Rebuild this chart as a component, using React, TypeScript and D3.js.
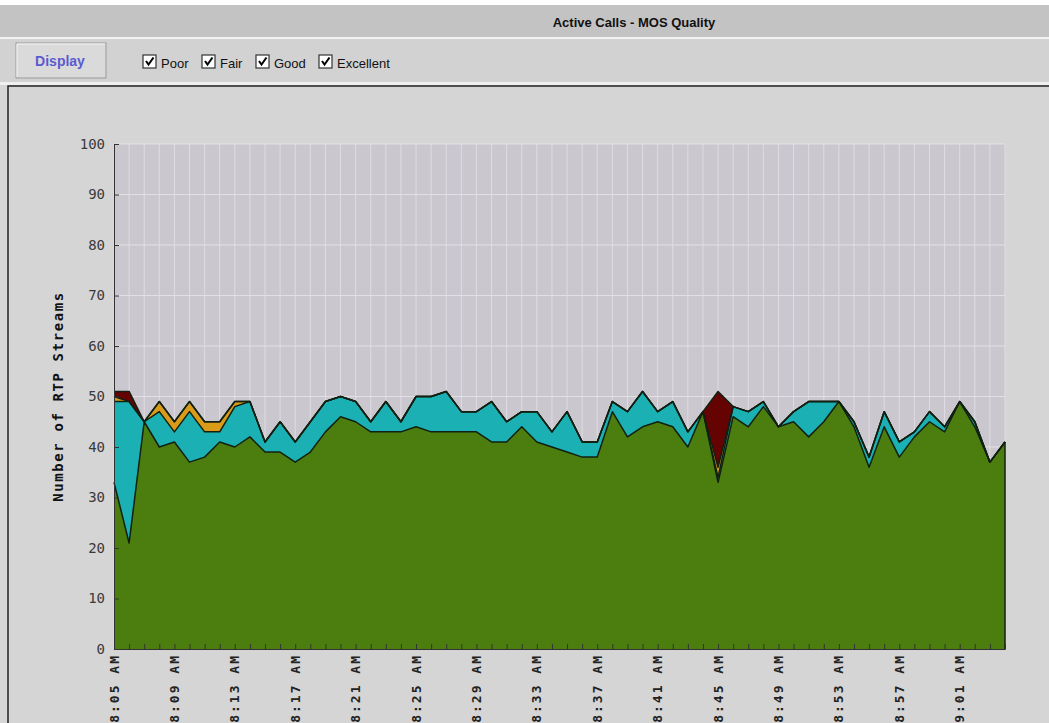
import React, { useEffect, useRef } from 'react';
import * as d3 from 'd3';

// streams per minute, one value per minute starting 8:05 AM
const excellent = [
  33, 21, 45, 40, 41, 37, 38, 41, 40, 42, 39, 39, 37, 39, 43, 46, 45, 43, 43, 43,
  44, 43, 43, 43, 43, 41, 41, 44, 41, 40, 39, 38, 38, 47, 42, 44, 45, 44, 40, 47,
  33, 46, 44, 48, 44, 45, 42, 45, 49, 44, 36, 44, 38, 42, 45, 43, 49, 44, 37, 41,
];
const good = [
  16, 28, 0, 7, 2, 10, 5, 2, 8, 7, 2, 6, 4, 6, 6, 4, 4, 2, 6, 2,
  6, 7, 8, 4, 4, 8, 4, 3, 6, 3, 8, 3, 3, 2, 5, 7, 2, 5, 3, 0,
  1, 2, 3, 1, 0, 2, 7, 4, 0, 1, 2, 3, 3, 1, 2, 1, 0, 1, 0, 0,
];
const fair = [
  1, 0, 0, 2, 2, 2, 2, 2, 1, 0, 0, 0, 0, 0, 0, 0, 0, 0, 0, 0,
  0, 0, 0, 0, 0, 0, 0, 0, 0, 0, 0, 0, 0, 0, 0, 0, 0, 0, 0, 0,
  2, 0, 0, 0, 0, 0, 0, 0, 0, 0, 0, 0, 0, 0, 0, 0, 0, 0, 0, 0,
];
const poor = [
  1, 2, 0, 0, 0, 0, 0, 0, 0, 0, 0, 0, 0, 0, 0, 0, 0, 0, 0, 0,
  0, 0, 0, 0, 0, 0, 0, 0, 0, 0, 0, 0, 0, 0, 0, 0, 0, 0, 0, 0,
  15, 0, 0, 0, 0, 0, 0, 0, 0, 0, 0, 0, 0, 0, 0, 0, 0, 0, 0, 0,
];

const startTime = '8:05 AM';
const tickLabels = [
  '8:05 AM', '8:09 AM', '8:13 AM', '8:17 AM', '8:21 AM', '8:25 AM', '8:29 AM', '8:33 AM',
  '8:37 AM', '8:41 AM', '8:45 AM', '8:49 AM', '8:53 AM', '8:57 AM', '9:01 AM',
];
const yTicks = [0, 10, 20, 30, 40, 50, 60, 70, 80, 90, 100];
const legendLabels = ['Poor', 'Fair', 'Good', 'Excellent'];

const App = () => {
  const svgRef = useRef<SVGSVGElement>(null);

  useEffect(() => {
    const svg = d3.select(svgRef.current);
    svg.selectAll('*').remove();

    const width = 1049;
    const height = 723;
    const margin = { top: 144, right: 44, bottom: 74, left: 114 };
    const sans = '"Liberation Sans", Arial, sans-serif';
    const mono = '"DejaVu Sans Mono", monospace';

    const parse = d3.timeParse('%I:%M %p');
    const t0 = parse(startTime) as Date;
    const rows = excellent.map((e, i) => ({
      time: d3.timeMinute.offset(t0, i),
      excellent: e,
      good: good[i],
      fair: fair[i],
      poor: poor[i],
    }));
    const tEnd = rows[rows.length - 1].time;

    // ---- window chrome ----
    svg.append('rect').attr('width', width).attr('height', height).attr('fill', '#d6d6d6');
    svg.append('rect').attr('width', width).attr('height', 5).attr('fill', '#ffffff');
    svg.append('rect').attr('y', 5).attr('width', width).attr('height', 32).attr('fill', '#c3c3c3');
    svg.append('rect').attr('y', 37).attr('width', width).attr('height', 2).attr('fill', '#f2f2f2');
    svg.append('rect').attr('y', 39).attr('width', width).attr('height', 43).attr('fill', '#d2d2d2');
    svg.append('rect').attr('y', 82).attr('width', width).attr('height', 3).attr('fill', '#f0f0f0');
    svg.append('text')
      .attr('x', 634).attr('y', 27)
      .attr('text-anchor', 'middle')
      .style('font-family', sans).style('font-weight', 'bold').style('font-size', '13px')
      .attr('fill', '#111')
      .text('Active Calls - MOS Quality');

    // Display button
    svg.append('rect').attr('x', 16).attr('y', 43).attr('width', 90).attr('height', 35)
      .attr('fill', '#dadada').attr('stroke', '#9a9a9a');
    svg.append('path').attr('d', 'M17,77 L17,44 L105,44').attr('fill', 'none').attr('stroke', '#f6f6f6');
    svg.append('text')
      .attr('x', 60).attr('y', 66).attr('text-anchor', 'middle')
      .style('font-family', sans).style('font-weight', 'bold').style('font-size', '14px')
      .attr('fill', '#5b5bd0')
      .text('Display');

    // checkboxes
    const boxX = [143, 202, 256, 319];
    const legend = svg.selectAll('.legend').data(legendLabels).enter().append('g')
      .attr('class', 'legend')
      .attr('transform', (d, i) => `translate(${boxX[i]},55)`);
    legend.append('rect').attr('width', 13).attr('height', 13)
      .attr('fill', '#fff').attr('stroke', '#333').attr('stroke-width', 1.2);
    legend.append('path').attr('d', 'M3,6 L5.5,9.5 L10.5,2.5')
      .attr('fill', 'none').attr('stroke', '#000').attr('stroke-width', 2);
    legend.append('text').attr('x', 18).attr('y', 13)
      .style('font-family', sans).style('font-size', '13px').attr('fill', '#111')
      .text(d => d);

    // chart panel
    svg.append('rect').attr('x', 8).attr('y', 86).attr('width', width).attr('height', height)
      .attr('fill', '#d5d5d5').attr('stroke', '#222').attr('stroke-width', 1.5);

    // ---- scales ----
    const xScale = d3.scaleTime().domain([t0, tEnd]).range([margin.left, width - margin.right]);
    const yScale = d3.scaleLinear().domain([0, 100]).range([height - margin.bottom, margin.top]);

    const plotTop = yScale(100);
    const plotBottom = yScale(0);
    svg.append('rect')
      .attr('x', margin.left).attr('y', plotTop)
      .attr('width', xScale(tEnd) - margin.left).attr('height', plotBottom - plotTop)
      .attr('fill', '#cbc7cf');

    // grid
    svg.append('g').selectAll('line').data(rows).enter().append('line')
      .attr('x1', d => xScale(d.time)).attr('x2', d => xScale(d.time))
      .attr('y1', plotTop).attr('y2', plotBottom)
      .attr('stroke', '#dfdce3').attr('stroke-width', 1);
    svg.append('g').selectAll('line').data(yTicks.slice(1)).enter().append('line')
      .attr('x1', margin.left).attr('x2', xScale(tEnd))
      .attr('y1', d => yScale(d)).attr('y2', d => yScale(d))
      .attr('stroke', '#e2e0e6').attr('stroke-width', 1);

    // ---- stacked areas ----
    const keys = ['excellent', 'good', 'fair', 'poor'];
    const colors = d3.scaleOrdinal<string, string>().domain(keys)
      .range(['#4b7e0e', '#1bb0b4', '#d99b18', '#650303']);
    const series = d3.stack<any>().keys(keys)(rows);

    const area = d3.area<any>()
      .x(d => xScale(d.data.time))
      .y0(d => yScale(d[0]))
      .y1(d => yScale(d[1]));
    const topLine = d3.line<any>()
      .x(d => xScale(d.data.time))
      .y(d => yScale(d[1]));

    svg.append('g').selectAll('path').data(series).enter().append('path')
      .attr('d', d => area(d) as string)
      .attr('fill', d => colors(d.key));
    svg.append('g').selectAll('path').data(series).enter().append('path')
      .attr('d', d => topLine(d) as string)
      .attr('fill', 'none')
      .attr('stroke', '#122012')
      .attr('stroke-width', 1.5)
      .attr('stroke-linejoin', 'round');
    // right edge of the filled region
    svg.append('line')
      .attr('x1', xScale(tEnd)).attr('x2', xScale(tEnd))
      .attr('y1', yScale(d3.sum(keys, k => (rows[rows.length - 1] as any)[k]))).attr('y2', plotBottom)
      .attr('stroke', '#122012').attr('stroke-width', 1.5);

    // ---- axes ----
    const yAxis = svg.append('g')
      .attr('transform', `translate(${margin.left},0)`)
      .call(d3.axisLeft(yScale).tickValues(yTicks).tickSize(-5).tickPadding(9));
    yAxis.select('.domain').attr('stroke', '#333');
    yAxis.selectAll('.tick line').attr('stroke', '#333');
    yAxis.selectAll('text')
      .style('font-family', mono).style('font-size', '14px').attr('fill', '#3a3a3a');

    const xAxis = svg.append('g')
      .attr('transform', `translate(0,${plotBottom})`)
      .call(d3.axisBottom(xScale).ticks(d3.timeMinute.every(1)).tickSize(-5).tickFormat(() => ''));
    xAxis.select('.domain').attr('stroke', '#333');
    xAxis.selectAll('.tick line').attr('stroke', '#333');

    svg.append('g').selectAll('text').data(tickLabels).enter().append('text')
      .attr('transform', d => `translate(${xScale(parse(d) as Date) + 4.5},${plotBottom + 5}) rotate(-90)`)
      .attr('text-anchor', 'end')
      .style('font-family', mono).style('font-weight', 'bold').style('font-size', '13px')
      .style('letter-spacing', '2px')
      .attr('fill', '#222')
      .text(d => d);

    svg.append('text')
      .attr('transform', `translate(63,${(plotTop + plotBottom) / 2}) rotate(-90)`)
      .attr('text-anchor', 'middle')
      .style('font-family', mono).style('font-weight', 'bold').style('font-size', '14px')
      .style('letter-spacing', '1.6px')
      .attr('fill', '#111')
      .text('Number of RTP Streams');

    return () => { svg.selectAll('*').remove(); };
  }, []);

  return (
    <svg ref={svgRef} width={1049} height={723}
      style={{ position: 'absolute', left: 0, top: 0, display: 'block' }} />
  );
};

export default App;
